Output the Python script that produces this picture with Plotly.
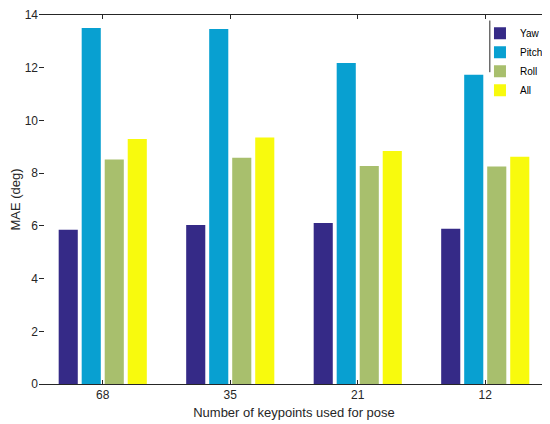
import plotly.graph_objects as go

keypoints = ["68", "35", "21", "12"]
yaw = [5.86, 6.04, 6.11, 5.89]
pitch = [13.52, 13.48, 12.19, 11.74]
roll = [8.52, 8.59, 8.28, 8.26]
all_ = [9.30, 9.36, 8.85, 8.63]
y_ticks = [0, 2, 4, 6, 8, 10, 12, 14]

series = [
    ("Yaw", yaw, "#352a87"),
    ("Pitch", pitch, "#08a0d1"),
    ("Roll", roll, "#a8bf6d"),
    ("All", all_, "#f8fa0d"),
]

fig = go.Figure()
for name, vals, col in series:
    fig.add_trace(go.Bar(
        x=keypoints,
        y=vals,
        name=name,
        marker_color=col,
        marker_line_width=0,
    ))

# the page adds an 8px body margin, so the figure is a bit smaller than the window
fig.update_layout(
    width=542, height=416,
    barmode="group",
    bargap=0.278,
    bargroupgap=0.17,
    plot_bgcolor="white",
    paper_bgcolor="white",
    margin=dict(l=31, r=1, t=7, b=40, autoexpand=False),
    font=dict(family="Liberation Sans, Arial, sans-serif", size=12, color="#262626"),
    showlegend=True,
    legend=dict(
        x=0.998, y=0.99, xanchor="right", yanchor="top",
        bgcolor="rgba(255,255,255,0)", borderwidth=0,
        font=dict(size=10, color="#000"),
        tracegroupgap=0, itemwidth=30,
    ),
)

fig.update_xaxes(
    title=dict(text="Number of keypoints used for pose", font=dict(size=13), standoff=6),
    showline=True, linecolor="#262626", linewidth=1, mirror="ticks",
    ticks="inside", ticklen=4, tickcolor="#262626",
    showgrid=False, automargin=False,
)
fig.update_yaxes(
    title=dict(text="MAE (deg)", font=dict(size=13), standoff=10),
    range=[0, 14.01], tickmode="array", tickvals=y_ticks,
    ticklabeloverflow="allow",
    showline=False, mirror="ticks",
    ticks="inside", ticklen=5, tickcolor="#262626",
    showgrid=False, zeroline=False, automargin=False,
)

# thin rule on the legend's left edge, as in the original
fig.add_shape(type="line", xref="paper", yref="paper",
              x0=0.884, x1=0.884, y0=0.845, y1=0.985,
              line=dict(color="#262626", width=1))

fig.write_html("out.html")
